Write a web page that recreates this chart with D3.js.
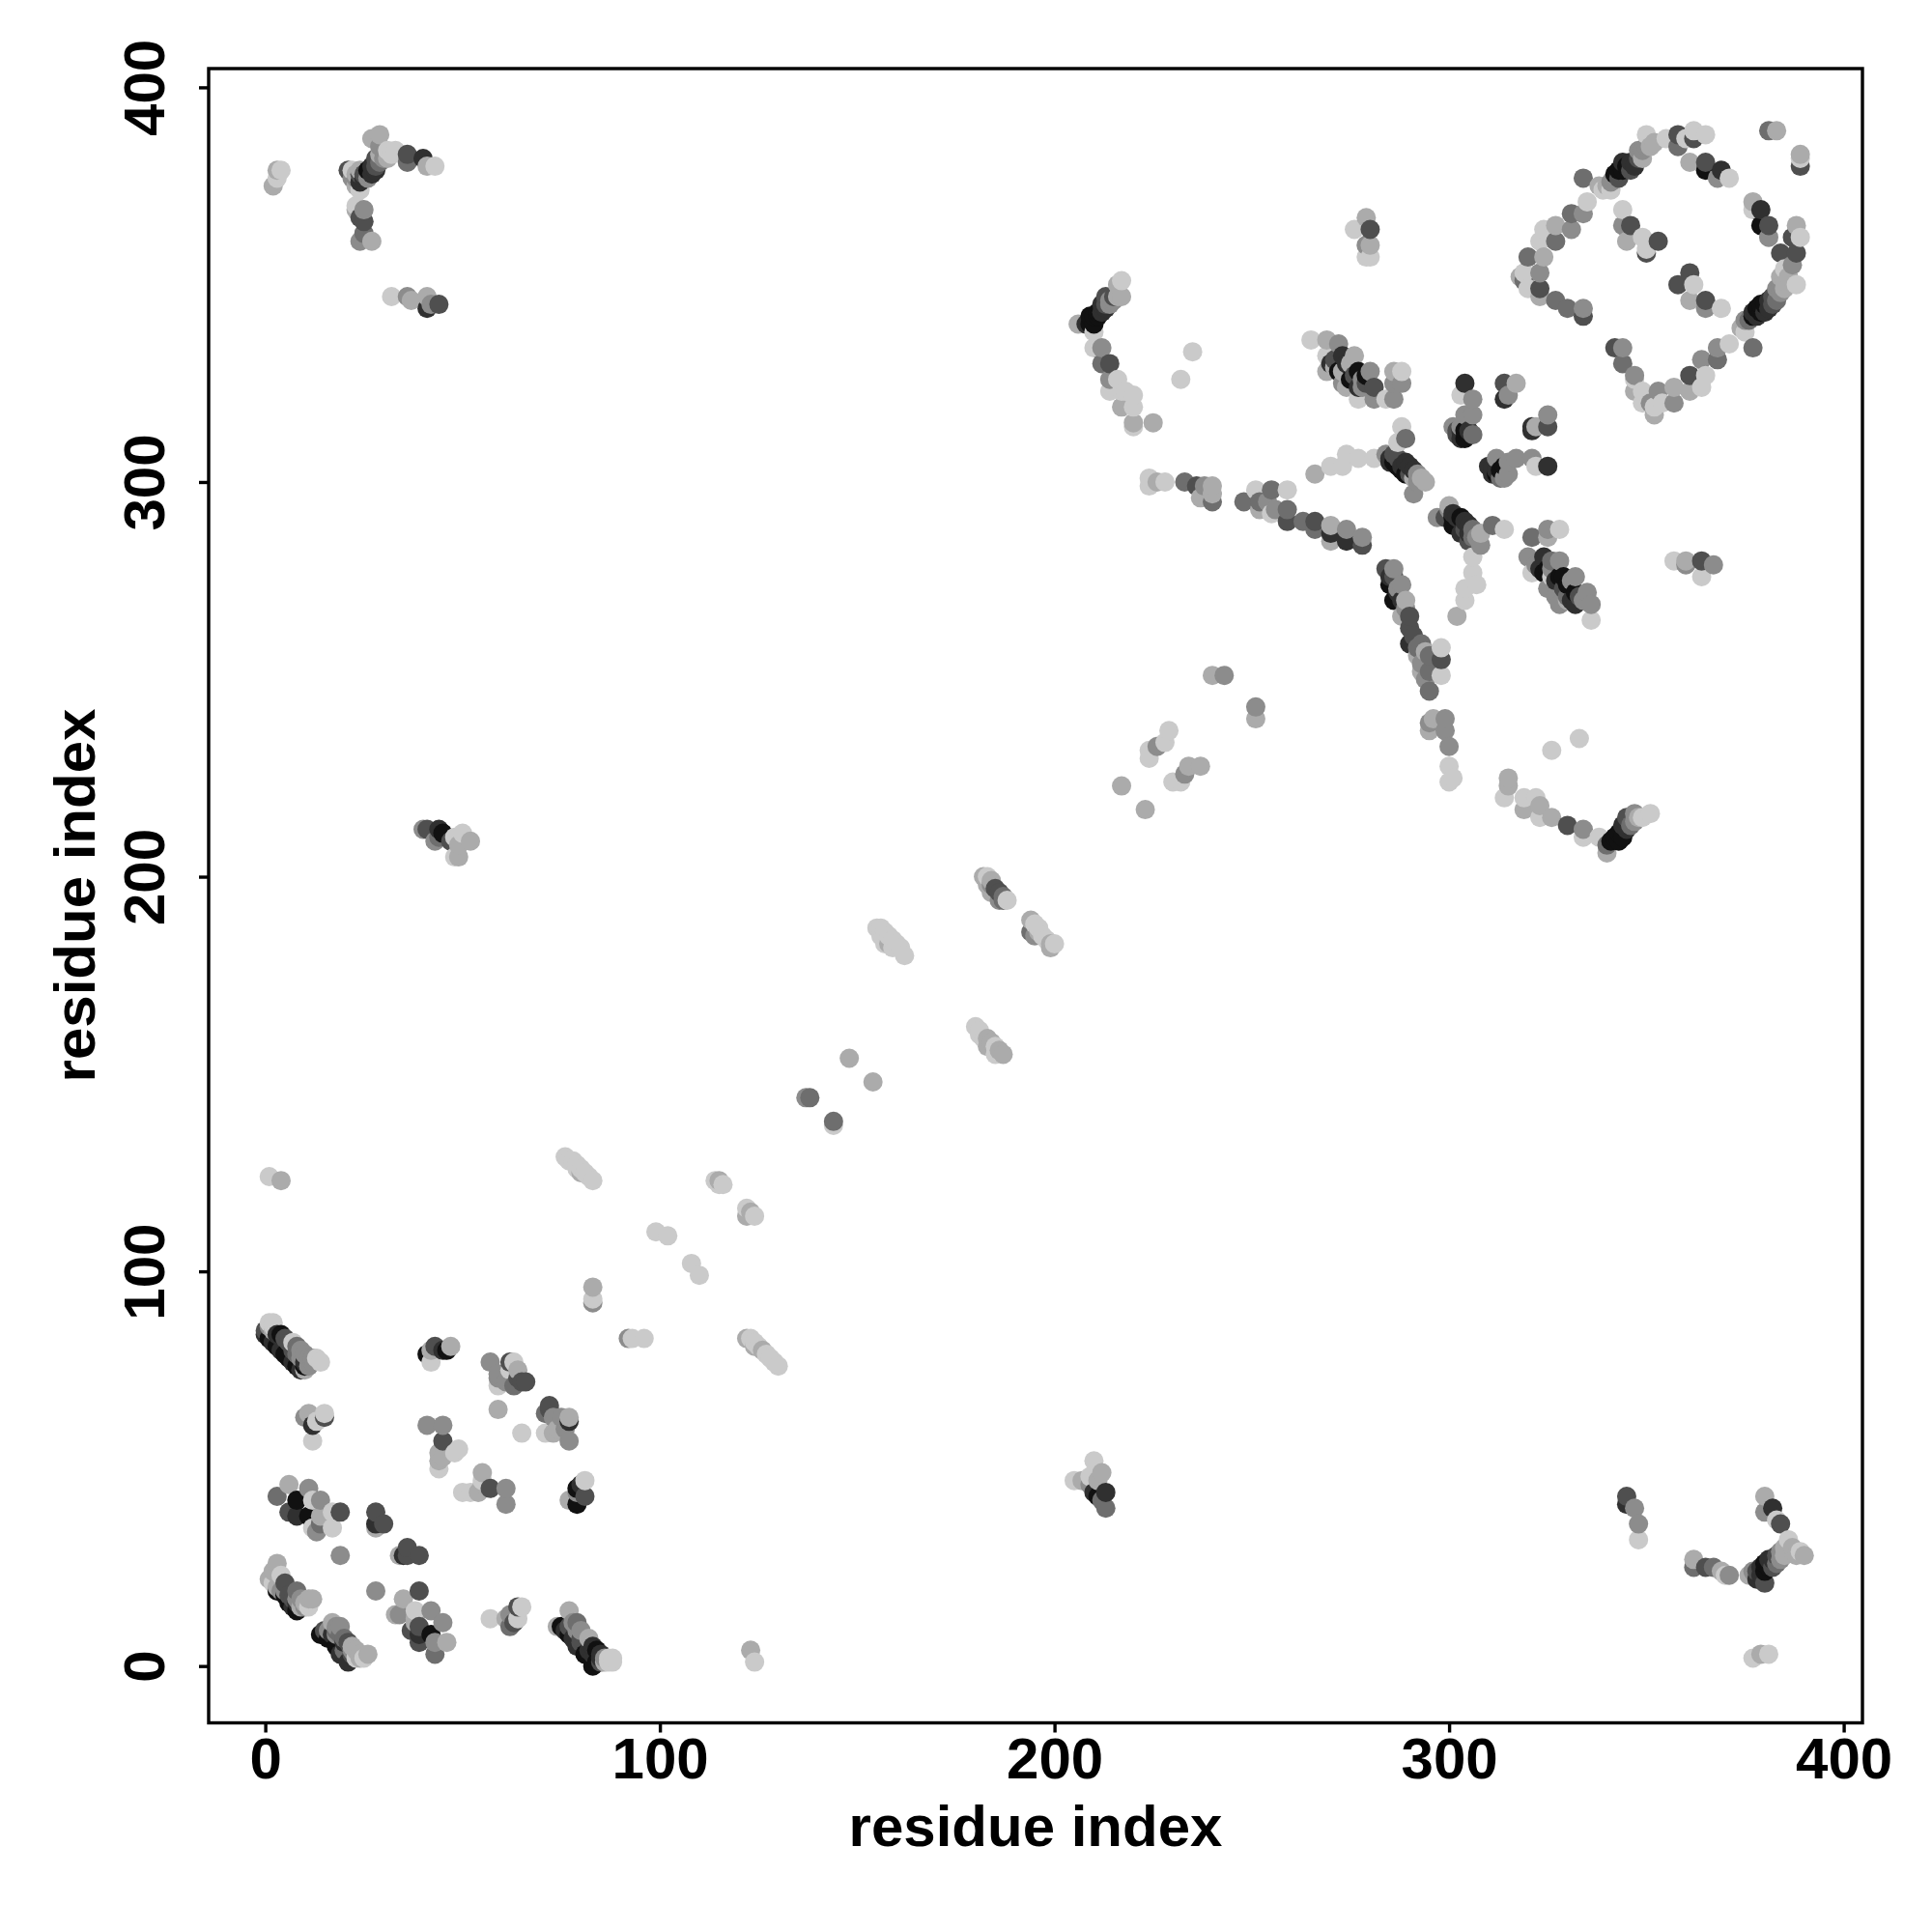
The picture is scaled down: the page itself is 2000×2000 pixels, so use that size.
<!DOCTYPE html>
<html><head><meta charset="utf-8">
<script src="https://cdn.jsdelivr.net/npm/d3@7"></script>
<style>html,body{margin:0;background:#fff}svg{display:block}text{font-family:"Liberation Sans",Arial,sans-serif;font-weight:700;fill:#000}</style>
</head><body><svg id="c" width="2000" height="2000"></svg>
<script>
// each contact: [residue i, residue j, contact level 1..7]
const lowerLeftA=[[1,87,1],[2,87,1],[1,86,3],[0,85,5],[0,84,6],[1,83,7],[2,82,6],[3,81,7],[4,80,6],[5,79,7],[6,78,7],[7,77,6],[8,76,7],[9,75,6],[10,76,7],[10,75,2],[4,84,7],[5,83,5],[7,82,1],[8,81,4],[9,80,3],[10,79,3],[11,78,3],[12,78,3],[14,77,1],
[10,63,3],[12,61,6],[13,62,1],[15,63,5],[15,64,1],[12,57,1],[11,64,2],
[43,81,5],[42,77,1],[41,79,7],[46,80,7],[47,81,2],[45,80,6],[42,80,2],
[57,77,3],[62,77,5],[63,77,1],[59,74,3],[59,73,3],[59,71,1],[64,75,2],[61,72,3],[63,71,4],[66,72,5],[65,72,5],[64,73,5],[62,75,1],[59,65,2],[65,59,1],
[72,66,5],[71,64,4],[73,63,3],[75,63,3],[77,62,6],[77,63,2],[71,59,1],[73,59,2],[77,57,3],[76,60,3],[74,60,2],[72,65,5]];
const lowerLeftB=[[41,61,3],[45,61,3],[45,57,5],[49,55,1],[48,54,1],[44,54,2],[44,52,2],[44,50,1],[45,53,2],
[50,44,1],[52,44,1],[55,49,2],[55,47,1],[54,44,2],[57,45,5],[61,45,3],[61,41,3],[55,46,2],
[77,42,2],[79,41,7],[81,43,5],[79,45,7],[80,46,6],[81,47,1],[79,44,3],
[3,43,4],[6,46,2],[6,39,5],[8,42,7],[8,38,6],[11,45,3],[12,42,1],[14,42,3],[11,38,7],[14,38,2],[13,34,3],[12,35,1],[17,35,1],[19,39,5],[17,39,1],[14,36,4],
[19,28,3],[28,19,3],[28,39,5],[28,36,6],[30,36,5],[28,35,2],[36,30,5],[35,28,6],[34,28,2],[39,28,5],[36,28,5]];
const lowerLeftC=[[3,26,2],[2,24,2],[4,23,1],[2,21,1],[1,22,2],[5,21,5],[3,19,7],[5,18,7],[8,19,4],[6,16,7],[8,14,7],[10,16,2],[11,17,2],[9,15,2],[7,15,6],
[14,8,7],[17,11,2],[16,9,3],[19,8,4],[16,7,7],[18,5,7],[21,6,5],[19,3,6],[21,1,6],[23,4,2],[23,2,1],[26,3,2],[25,2,1],[20,4,4],
[39,19,5],[35,17,2],[34,13,3],[38,14,1],[42,14,3],[45,11,3],[38,11,2],[39,10,5],[39,6,5],[42,8,7],[46,6,2],[43,3,4],[43,6,3],[37,9,5],[39,8,6],[33,13,2],[38,12,2],
[57,12,1],[61,12,2],[63,11,5],[62,10,4],[64,15,5],[65,15,1],[64,12,1],[62,13,3],
[77,14,2],[74,10,2],[79,11,4],[75,10,7],[77,8,7],[79,5,6],[82,7,2],[81,3,7],[84,4,7],[83,0,7],[85,2,6],[88,1,1],[86,1,2],[87,1,1],[79,9,3],
[83,96,2],[83,92,3],[83,93,1],[92,83,3],[93,83,1],[96,83,1]];
const diagonalStrands=[[1,124,1],[4,123,2],[123,4,2],[124,1,1],
[122,83,2],[123,83,1],[124,82,1],[125,81,1],[126,80,2],[127,79,1],[128,78,1],[129,77,1],[130,76,1],[124,81,2],
[76,129,1],[77,128,1],[78,128,1],[79,127,1],[80,126,1],[81,125,1],[82,124,1],[83,123,1],[80,125,2],[79,126,1],
[114,123,1],[115,122,1],[115,123,2],[116,122,1],[122,116,1],[123,115,2],[124,114,1],[122,114,2],
[99,110,1],[102,109,1],[108,102,1],[110,99,1],
[137,144,3],[138,144,4],[144,138,4],[144,137,1],[148,154,2],[154,148,2],
[155,187,1],[156,187,1],[157,186,1],[158,185,1],[159,184,1],[160,183,1],[161,182,1],[162,180,1],[156,185,1],[157,183,1],[158,183,2],[159,182,1],
[180,162,1],[181,160,1],[182,159,1],[183,159,2],[184,158,2],[185,157,1],[186,156,2],[187,155,2],[181,161,1],[183,157,2],[185,155,1],
[182,200,2],[183,200,1],[184,199,2],[187,194,4],[184,198,3],[185,197,5],[186,196,5],[187,195,4],[188,194,1],[183,198,2],[184,196,2],[186,194,3],
[194,189,2],[195,188,1],[194,186,4],[195,185,3],[196,186,2],[197,185,1],[198,184,1],[199,183,2],[200,183,1],[199,182,2],[196,187,1]];
const offDiagonalCorners=[[40,212,3],[41,212,5],[44,212,6],[45,211,7],[44,210,4],[47,209,5],[48,210,1],[49,208,2],[50,211,1],[52,209,2],[48,205,1],[49,205,2],[43,209,3],
[205,47,1],[207,47,2],[210,52,1],[212,49,2],[209,48,1],[209,46,3],[210,44,6],[211,43,7],[212,42,4],[213,40,4],[213,44,6],[211,47,2],
[2,375,2],[3,377,1],[3,379,2],[4,379,1],
[21,379,5],[22,377,3],[23,375,2],[24,376,6],[25,378,5],[26,379,7],[27,380,6],[28,382,5],[29,383,2],[29,385,3],[27,387,2],[29,388,2],[31,384,1],[33,384,1],[36,383,5],[36,381,4],[40,382,6],[41,380,2],[43,380,1],[22,379,1],[24,379,2],
[23,369,2],[24,367,5],[25,366,5],[25,363,4],[24,361,3],[27,361,2],[25,369,3],[23,370,1],
[32,347,1],[36,347,3],[37,346,2],[41,347,2],[41,344,6],[42,345,3],[44,345,5],
[345,43,5],[345,41,6],[347,40,3],[348,36,3],[348,32,1],
[362,27,2],[362,25,4],[365,25,5],[367,25,4],[369,24,2],[370,23,1],[371,23,3],
[380,43,2],[382,40,6],[380,39,3],[383,37,1],[384,36,5],[376,23,2],[377,24,3],[378,22,6],[379,25,6],[380,21,5],[380,26,7],[381,27,6],[382,25,5],[383,28,5],[384,29,3],[385,30,2],[386,32,1],[387,30,2],[388,28,2],[389,29,1],[390,28,2],
[377,2,1],[379,3,2],[381,3,1]];
const middleArms=[[206,340,2],[209,342,7],[210,340,7],[211,343,7],[212,345,6],[213,347,5],[215,347,5],[217,351,1],[217,347,2],[216,350,2],[211,342,7],[213,344,6],[214,346,3],
[210,338,1],[210,334,1],[212,334,3],[212,330,4],[214,330,5],[214,326,3],[216,326,1],[214,323,1],[217,323,1],[220,322,1],[217,319,2],[220,319,1],[220,315,2],[220,314,1],[225,315,2],[218,323,1],
[235,333,1],[232,326,1],
[224,301,1],[224,299,1],[228,300,1],[233,300,4],[236,299,5],[237,296,2],[240,299,2],[240,295,4],[238,299,3],[226,300,2],[240,297,2],
[248,295,4],[251,298,1],[252,295,4],[255,298,4],[259,298,1],[255,292,1],[256,293,3],[259,293,4],[259,290,5],[263,290,4],[266,290,5],[266,288,4],[270,289,2],[270,287,6],[274,288,3],[274,285,6],[278,286,3],[278,284,5],[270,285,2],[252,293,2],[254,295,3],
[265,336,1],[269,336,2],[272,335,3],[269,332,1],[269,328,2],[273,332,6],[276,332,2],[273,325,3],[272,328,7],[277,328,7],[280,328,3],[277,324,6],[281,324,5],[277,321,1],[281,321,3],[286,325,3],[288,328,1],[286,328,2],[286,321,3],[284,321,1],[273,328,2],[288,325,3],
[284,307,3],[285,305,6],[287,304,7],[289,305,6],[291,303,6],[289,302,7],[291,301,2],[294,300,2],[291,297,3],[288,314,1],[289,311,4],[287,310,1],[286,307,5],
[266,302,2],[270,304,1],[273,304,1],[274,307,1],[277,306,1],[281,306,1]];
const centralPatches=[[304,325,6],[306,321,3],[303,322,1],[306,317,3],[304,317,3],[301,314,3],[302,313,5],[304,313,7],[305,312,7],[306,312,4],[303,311,6],
[314,325,5],[317,325,2],[314,321,6],[315,322,3],[321,313,6],[322,314,2],[325,314,5],[325,317,3],[321,314,6],
[311,304,6],[312,306,3],[314,304,7],[314,301,3],[317,306,3],[321,306,3],[322,304,1],[325,304,6],[310,304,6],[313,301,4],
[297,291,3],[300,294,2],[300,293,3],[302,291,6],[303,291,7],[305,289,6],[301,289,7],[303,287,6],[306,286,4],[308,287,2],[308,284,3],[311,289,4],[314,288,1],
[306,281,1],[306,277,1],[304,273,1],[307,274,1],[304,270,1],[302,266,2],
[321,286,4],[325,288,3],[328,288,1],[325,286,2],[320,281,3],[321,277,1],[324,281,6],[324,277,7],[328,280,3],[325,273,3],[328,276,7],[332,276,3],[329,273,5],[328,269,3],[332,272,7],[335,272,3],[332,269,6],[336,269,3],[336,265,1],[326,276,1],
[284,278,5],[286,278,3],[285,274,7],[288,274,3],[286,270,7],[289,270,2],[288,266,2],[290,266,5],[290,263,5],[290,259,6],[293,259,4],[292,256,2],[295,256,4],[298,258,1],[298,255,5],[293,252,2],[295,252,4],[298,251,1],[295,247,4],
[295,239,3],[295,237,2],[296,240,2],[299,240,3],[299,237,3],[300,233,3],[300,228,1],[300,224,1],[301,225,1],
[333,235,1],[326,232,1],
[315,225,2],[315,223,2],[314,220,1],[319,220,1],[322,220,1],[319,217,2],[323,218,2],[323,215,1],[326,215,2],[330,213,5],[334,212,3],[334,210,1],[338,210,1],[340,206,2],[342,210,7],[343,211,7],[344,213,6],[345,215,5],[347,216,3],[351,216,1],[341,209,7],
[217,223,2],[223,217,2],[229,237,1],[228,234,1],[226,233,3],[224,232,1],[224,230,1],[237,228,2],[234,228,2],[233,226,3],[232,224,1],[230,224,1],
[240,251,2],[243,251,3],[251,243,3],[251,240,2]];
const upperLoop=[[279,367,2],[276,364,1],[280,364,5],[280,360,2],[279,360,3],[280,357,1],[279,357,1],
[357,280,1],[360,280,2],[364,280,5],[367,279,3],[364,276,1],[360,279,3],
[334,377,4],[338,375,2],[341,376,3],[342,378,7],[344,379,7],[344,381,6],[347,380,6],[348,384,3],[350,388,1],[351,385,2],[349,382,2],[355,387,1],[358,388,5],[358,385,4],[360,387,1],[362,389,1],[365,388,1],[362,387,5],
[361,381,2],[365,381,5],[365,379,7],[369,379,6],[371,377,1],[368,377,3],[381,389,4],[383,389,2],[389,380,5],[389,383,2],[389,382,1],
[335,371,1],[334,368,3],[331,368,4],[331,364,3],[327,365,2],[327,361,4],[324,364,1],[323,361,1],[324,357,2],[320,357,4],[323,353,3],[319,353,1],[318,352,2],[319,351,4],[320,349,1],[323,349,5],[323,347,2],[327,346,4],[330,344,4],[334,342,5],[334,344,3],
[344,369,1],[344,365,3],[346,365,5],[345,361,2],[349,362,1],[353,361,5],[350,358,5],[350,359,1],
[361,353,5],[358,350,5],[362,350,1],[361,346,2],[365,346,5],[365,344,3],[369,344,1],
[377,371,2],[379,369,6],[377,369,1],[379,365,7],[381,365,5],[381,362,3],[388,365,2],[389,362,1],[387,362,5],[384,358,5],[388,358,5],[387,355,3],[385,354,1],[388,350,1],[385,351,2],[383,349,3],[382,347,5],[380,345,7],[378,344,7],[379,345,7],[377,342,7],[375,341,3],[374,339,2],[375,338,1],[377,343,6],[381,346,6],[384,352,2],[377,334,4],
[342,334,5],[344,334,3],[344,330,4],[347,327,3],[347,326,1],[347,323,2],[349,323,1],[349,320,1],[352,319,1],[353,323,3],[354,320,1],[352,317,2],[351,320,3],[357,320,3],[357,324,2],[361,327,5],[361,323,2],[364,324,1],[365,327,1],[364,331,3],[368,334,3],[368,331,4],[371,335,1]];
const denseBandsLow=[[6,82,5],[7,80,5],[8,79,4],[9,78,3],[10,77,6],[11,76,3],[12,77,3],[13,78,1],[3,84,6],[2,85,2],[2,86,1],
[3,20,2],[4,19,3],[5,19,3],[6,18,5],[7,17,5],[8,17,3],[9,17,3],[10,15,3],[11,15,1],[12,17,2],[8,16,6],
[15,9,5],[17,8,6],[18,9,4],[18,8,3],[20,6,6],[20,7,4],[22,4,3],[22,5,2],[22,3,5],[24,3,2],[24,2,2],[18,10,3],[19,10,3],
[76,9,6],[77,10,5],[78,7,6],[78,11,3],[80,7,5],[80,6,5],[80,9,3],[82,4,6],[83,3,6],[83,5,6],[84,1,7],[85,3,6],[85,1,5],[86,2,3],[87,2,1],[88,2,1],
[378,24,5],[379,23,6],[380,24,7],[381,25,7],[382,27,6],[383,26,4],[384,27,3],[385,28,2],
[23,377,3],[24,378,5],[25,377,6],[26,377,3],[27,378,6],[28,379,6],[28,380,5],[29,381,4],[30,382,3],[31,382,2],[32,383,1],[23,378,2],[24,374,1]];
const denseBandsHigh=[[343,379,7],[345,380,7],[346,381,6],[346,379,5],[348,382,5],[349,384,3],[350,385,3],[352,386,2],[340,375,2],[339,374,1],[341,374,1],[343,377,5],
[376,341,4],[378,342,6],[379,343,7],[380,343,6],[381,344,6],[382,345,5],[383,346,4],[384,348,3],[385,349,2],[384,350,3],[386,352,2],
[208,340,6],[209,340,7],[210,342,7],[212,343,6],[213,345,5],[214,345,3],[215,346,3],[216,347,2],
[340,208,4],[343,209,7],[344,210,7],[345,212,6],[346,213,4],[347,214,3],[348,215,2],[349,215,1],
[285,306,6],[286,305,7],[287,306,5],[288,303,7],[288,304,6],[290,304,6],[290,302,5],[292,302,3],[293,301,2],[292,300,3],
[299,291,5],[301,292,6],[301,291,7],[302,289,7],[304,290,6],[304,288,5],[305,287,6],[305,285,5],[306,288,4],[307,286,3],
[322,279,3],[323,278,6],[325,278,7],[326,278,3],[326,280,4],[327,275,6],[329,276,7],[330,274,7],[331,275,3],[330,271,4],[331,270,6],[334,270,3],[333,271,5],[330,270,2],[327,271,3],
[270,330,6],[271,331,5],[271,329,2],[274,330,6],[275,330,2],[275,326,7],[276,327,5],[278,326,3],[279,325,5],[279,327,7],[278,324,3],[274,324,2],
[303,313,6],[303,314,3],[304,311,7],[305,313,6],[302,312,5],
[311,302,6],[312,303,6],[312,302,7],[313,303,7],[315,302,3],[315,305,3],
[285,276,6],[286,276,5],[287,272,6],[287,273,3],[288,270,6],[289,268,3],[291,261,5],[292,258,4],[294,257,2],[293,254,3],[294,250,3]];
const tickLabels=[0,100,200,300,400];
const axisTitle="residue index";

const contacts=[].concat(lowerLeftA,lowerLeftB,lowerLeftC,diagonalStrands,offDiagonalCorners,middleArms,centralPatches,upperLoop,denseBandsLow,denseBandsHigh)
  .sort((a,b)=>d3.ascending(a[0],b[0])||d3.ascending(a[1],b[1]));

const box={l:216,r:1928,t:71,b:1783.5};
const x=d3.scaleLinear().domain([-14.35,404.75]).range([box.l,box.r]);
const y=d3.scaleLinear().domain([-14.4,404.75]).range([box.b,box.t]);
const shade=d3.scaleLinear().domain([1,7]).range(["#cacaca","#111111"]);
const svg=d3.select("#c");
svg.append("g").selectAll("circle").data(contacts).join("circle")
  .attr("cx",d=>x(d[0])).attr("cy",d=>y(d[1])).attr("r",10).attr("fill",d=>shade(d[2]));
svg.append("rect").attr("x",box.l).attr("y",box.t).attr("width",box.r-box.l).attr("height",box.b-box.t)
  .attr("fill","none").attr("stroke","#000").attr("stroke-width",3.4);
const gx=svg.append("g").attr("transform",`translate(0,${box.b})`).call(d3.axisBottom(x).tickValues(tickLabels).tickSize(10).tickPadding(12));
const gy=svg.append("g").attr("transform",`translate(${box.l},0)`).call(d3.axisLeft(y).tickValues(tickLabels).tickSize(10));
[gx,gy].forEach(g=>{g.select(".domain").remove();g.selectAll("line").attr("stroke","#000").attr("stroke-width",3.4);g.selectAll("text").attr("font-size",60).style("font-size","60px");});
gx.selectAll("text").attr("dy",null).attr("y",57);
gy.selectAll("text").attr("dy",null).attr("x",null).attr("text-anchor","middle")
  .attr("transform","translate(-46,0) rotate(-90)");
svg.append("text").attr("x",1072).attr("y",1911).attr("text-anchor","middle").attr("font-size",60).text(axisTitle);
svg.append("text").attr("transform","translate(98,927) rotate(-90)").attr("text-anchor","middle").attr("font-size",60).text(axisTitle);
</script></body></html>
